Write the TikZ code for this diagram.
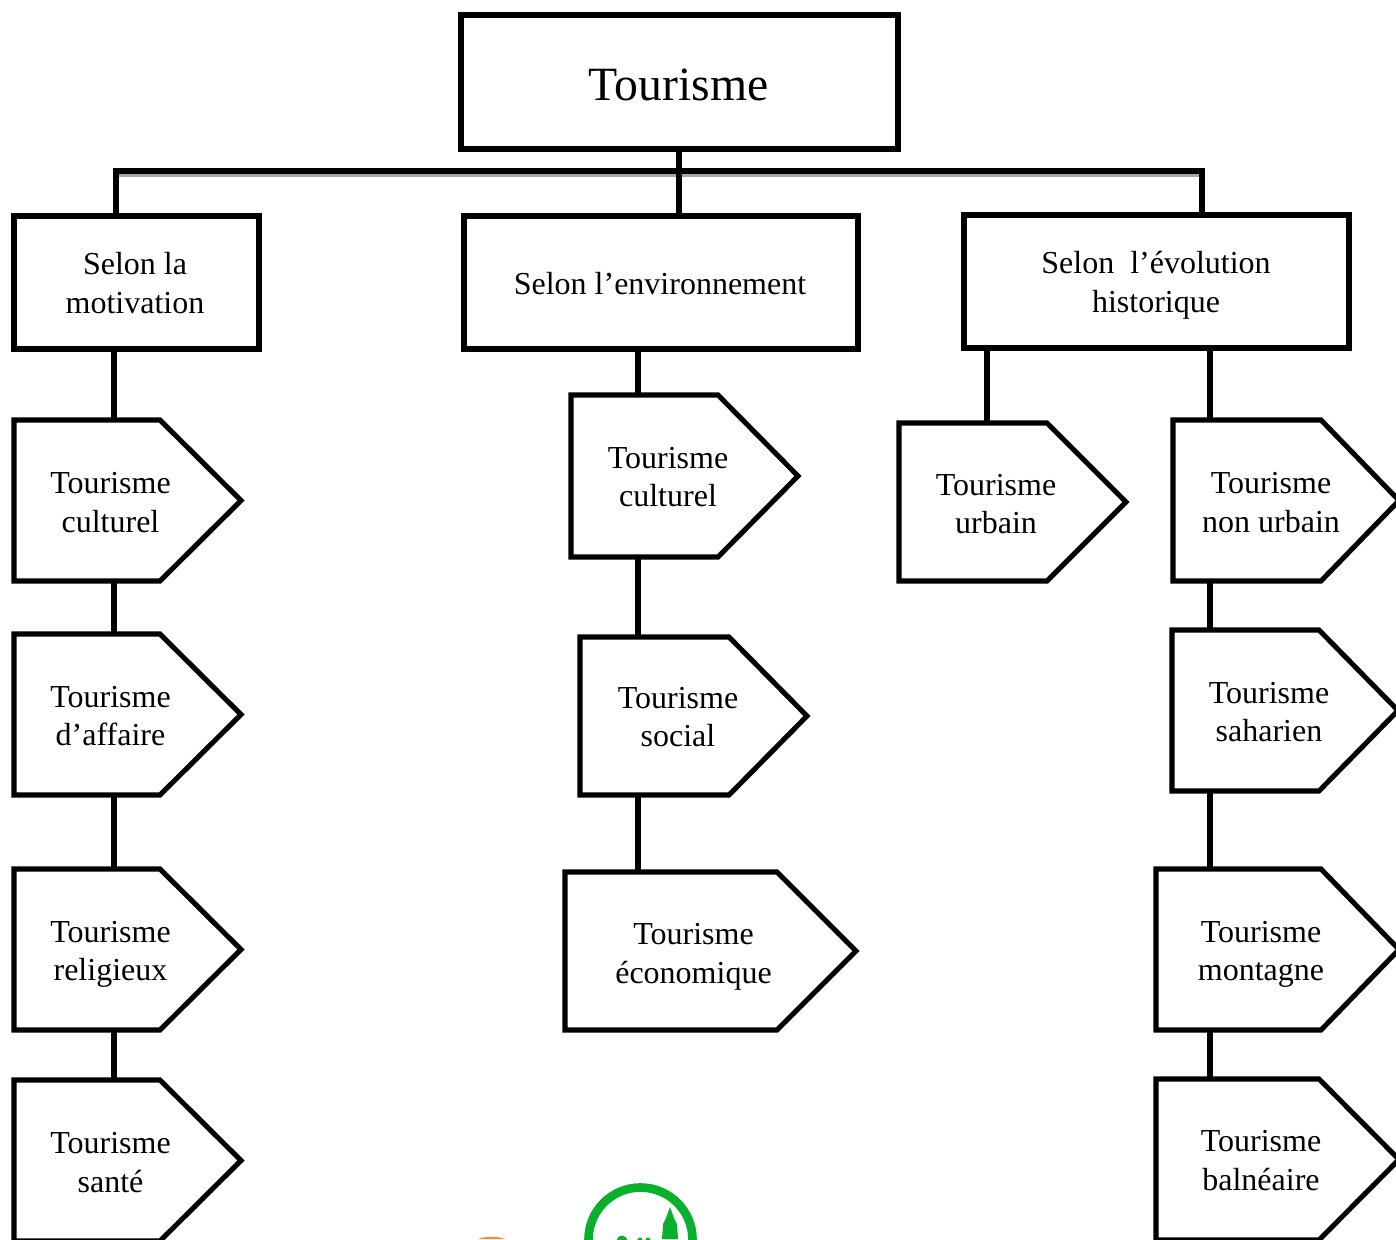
\documentclass[tikz,border=0pt]{standalone}
\usepackage{fontspec}
\setmainfont{Liberation Serif}
\usetikzlibrary{fit,calc}
\tikzset{
  box/.style={draw=black,line width=3.8pt,fill=white,inner sep=0pt},
  pentline/.style={draw=black,line width=3.8pt,fill=white,line join=miter},
  hitbox/.style={inner sep=0pt,outer sep=0pt},
  lbl/.style={align=center,inner sep=0pt,font=\fontsize{24}{29}\selectfont},
  conn/.style={draw=black,line width=3.8pt},
  shadowline/.style={draw=black!35,line width=3pt},
  logogreen/.style={draw=logog,line width=6.5pt}
}
\definecolor{logog}{RGB}{8,176,44}
\definecolor{logoo}{RGB}{240,140,60}
% name, left, flat, tip, top, bottom, text x, text y, text
\newcommand{\pentbox}[9]{%
  \path[pentline] (#2,#5) -- (#3,#5) -- (#4,{(#5+#6)/2}) -- (#3,#6) -- (#2,#6) -- cycle;
  \node[hitbox,fit={(#2,#5) (#4,#6)}] (#1) {};
  \node[lbl] (#1-t) at (#7,#8) {#9};
}
\newcommand{\rectbox}[7]{%
  \path[box] (#2,#3) rectangle (#4,#5);
  \node[hitbox,fit={(#2,#3) (#4,#5)}] (#1) {};
  \node[lbl] (#1-t) at (#6) {#7};
}
\begin{document}
\begin{tikzpicture}[x=0.75pt,y=-0.75pt]
\clip (0,0) rectangle (1396,1239);
\path[fill=white] (0,0) rectangle (1396,1239);
% boxes
\rectbox{top}{461}{15}{898}{149}{678.5,85}{\fontsize{35.8}{40}\selectfont Tourisme}
\rectbox{mot}{14}{216}{259}{349}{135,283}{Selon la\\motivation}
\rectbox{env}{464}{216}{858}{349}{660,284}{Selon l’environnement}
\rectbox{his}{964}{215}{1349}{348}{1156,285}{Selon\ \ l’évolution\\historique}
% left column
\pentbox{a1}{14}{160}{241}{420}{581}{110.5}{502.5}{Tourisme\\culturel}
\pentbox{a2}{14}{160}{241}{634}{795}{110.5}{716}{Tourisme\\d’affaire}
\pentbox{a3}{14}{160}{241}{869}{1030}{110.5}{954.5}{Tourisme\\religieux}
\pentbox{a4}{14}{160}{241}{1080}{1241}{110.5}{1162.5}{Tourisme\\santé}
% centre column
\pentbox{b1}{571}{718}{798}{395}{557}{668}{477}{Tourisme\\culturel}
\pentbox{b2}{580}{729}{807}{637}{795}{678}{717}{Tourisme\\social}
\pentbox{b3}{565}{777}{856}{872}{1030}{693.5}{956.5}{Tourisme\\économique}
% right columns
\pentbox{c1}{899}{1047}{1126}{423}{581}{996}{504}{Tourisme\\urbain}
\pentbox{d1}{1173}{1321}{1399}{420}{581}{1271}{502.5}{Tourisme\\non urbain}
\pentbox{d2}{1172}{1319}{1398}{630}{791}{1269}{712}{Tourisme\\saharien}
\pentbox{d3}{1156}{1321}{1399}{869}{1030}{1261}{954.5}{Tourisme\\montagne}
\pentbox{d4}{1156}{1319}{1399}{1079}{1240}{1261}{1160.5}{Tourisme\\balnéaire}
% connector guides
\coordinate (xa) at (114,0);
\coordinate (xb) at (638,0);
\coordinate (xc) at (987,0);
\coordinate (xd) at (1210,0);
\coordinate (xt) at (679,0);
\coordinate (xl) at (116,0);
\coordinate (xr) at (1202,0);
\coordinate (ytr) at (0,171);
\coordinate (ysh) at (0,175);
% shadow and trunk
\draw[shadowline] (xl |- ysh) -- (xr |- ysh);
\draw[conn,line cap=rect] (xl |- mot.north) -- (xl |- ytr) -- (xr |- ytr) -- (xr |- his.north);
\draw[conn] (top.south -| xt) -- (env.north -| xt);
% column connectors
\draw[conn] (mot.south -| xa) -- (a1.north -| xa);
\draw[conn] (a1.south -| xa) -- (a2.north -| xa);
\draw[conn] (a2.south -| xa) -- (a3.north -| xa);
\draw[conn] (a3.south -| xa) -- (a4.north -| xa);
\draw[conn] (env.south -| xb) -- (b1.north -| xb);
\draw[conn] (b1.south -| xb) -- (b2.north -| xb);
\draw[conn] (b2.south -| xb) -- (b3.north -| xb);
\draw[conn] (his.south -| xc) -- (c1.north -| xc);
\draw[conn] (his.south -| xd) -- (d1.north -| xd);
\draw[conn] (d1.south -| xd) -- (d2.north -| xd);
\draw[conn] (d2.south -| xd) -- (d3.north -| xd);
\draw[conn] (d3.south -| xd) -- (d4.north -| xd);
% cut-off logo at bottom edge
\draw[logogreen] (640.5,1239.5) circle[radius=52];
\fill[logog] (662,1239) -- (663,1224) -- (666,1218) -- (670,1207) -- (674,1218) -- (677,1224) -- (678,1239) -- cycle;
\fill[logog] (622,1241) circle[radius=5.5];
\fill[logog] (640,1240) circle[radius=2.5];
\fill[logog] (648,1240) circle[radius=2.5];
\fill[logoo] (478,1239) .. controls (485,1236) and (498,1236) .. (505,1239) -- cycle;
\end{tikzpicture}
\end{document}
